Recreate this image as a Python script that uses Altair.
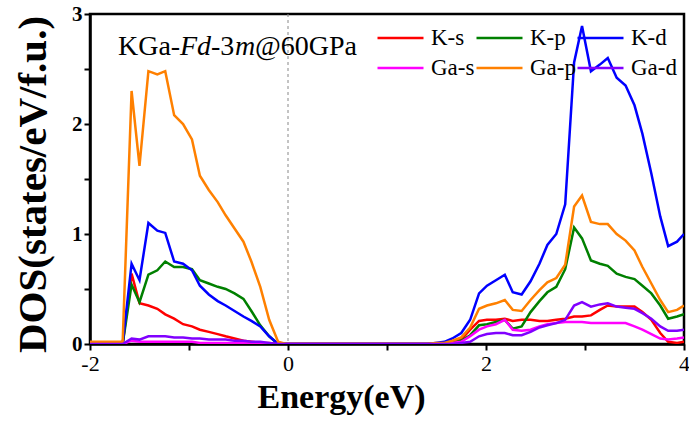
import altair as alt
import pandas as pd

energy = [-2.0, -1.67, -1.58, -1.50, -1.41, -1.32, -1.24, -1.15, -1.06, -0.97,
          -0.89, -0.80, -0.71, -0.63, -0.54, -0.45, -0.37, -0.28, -0.19, -0.10,
          -0.02, 0.5, 1.0, 1.31,
          1.40, 1.49, 1.58, 1.66, 1.75, 1.84, 1.93, 2.01, 2.10, 2.19,
          2.27, 2.36, 2.45, 2.54, 2.62, 2.71, 2.80, 2.89, 2.97, 3.06,
          3.15, 3.23, 3.32, 3.41, 3.50, 3.58, 3.67, 3.76, 3.84, 3.93, 4.0]

k_s = [0.0, 0.0, 0.64, 0.37, 0.35, 0.32, 0.27, 0.23, 0.18, 0.16,
       0.13, 0.11, 0.09, 0.07, 0.05, 0.03, 0.02, 0.01, 0.01, 0.0,
       0.0, 0.0, 0.0, 0.0,
       0.0, 0.0, 0.01, 0.02, 0.04, 0.13, 0.21, 0.22, 0.22, 0.23,
       0.21, 0.22, 0.22, 0.21, 0.21, 0.22, 0.23, 0.25, 0.25, 0.26,
       0.31, 0.35, 0.34, 0.34, 0.34, 0.29, 0.22, 0.10, 0.02, 0.01, 0.02]

k_p = [0.0, 0.0, 0.54, 0.38, 0.63, 0.67, 0.75, 0.70, 0.70, 0.68,
       0.58, 0.55, 0.52, 0.50, 0.46, 0.41, 0.30, 0.17, 0.07, 0.0,
       0.0, 0.0, 0.0, 0.0,
       0.0, 0.0, 0.01, 0.01, 0.03, 0.08, 0.17, 0.18, 0.20, 0.22,
       0.14, 0.16, 0.29, 0.39, 0.47, 0.52, 0.68, 1.06, 0.96, 0.76,
       0.73, 0.71, 0.64, 0.61, 0.59, 0.53, 0.46, 0.35, 0.23, 0.25, 0.27]

k_d = [0.0, 0.0, 0.73, 0.58, 1.10, 1.03, 1.01, 0.75, 0.73, 0.67,
       0.53, 0.45, 0.39, 0.35, 0.30, 0.25, 0.21, 0.16, 0.07, 0.0,
       0.0, 0.0, 0.0, 0.0,
       0.0, 0.01, 0.02, 0.05, 0.10, 0.22, 0.46, 0.53, 0.58, 0.63,
       0.47, 0.45, 0.57, 0.73, 0.90, 1.0, 1.27, 2.56, 2.89, 2.48,
       2.54, 2.60, 2.42, 2.35, 2.17, 1.91, 1.55, 1.16, 0.89, 0.93, 1.0]

ga_s = [0.0, 0.0, 0.03, 0.02, 0.02, 0.02, 0.02, 0.02, 0.02, 0.02,
        0.01, 0.01, 0.01, 0.01, 0.01, 0.01, 0.0, 0.0, 0.0, 0.0,
        0.0, 0.0, 0.0, 0.0,
        0.0, 0.0, 0.0, 0.01, 0.02, 0.07, 0.13, 0.16, 0.18, 0.22,
        0.13, 0.12, 0.13, 0.16, 0.18, 0.19, 0.20, 0.20, 0.20, 0.19,
        0.19, 0.19, 0.19, 0.19, 0.16, 0.13, 0.09, 0.05, 0.04, 0.05, 0.06]

ga_p = [0.02, 0.02, 2.30, 1.62, 2.48, 2.45, 2.48, 2.08, 2.00, 1.86,
        1.53, 1.40, 1.29, 1.17, 1.05, 0.93, 0.75, 0.52, 0.22, 0.02,
        0.0, 0.0, 0.0, 0.0,
        0.0, 0.01, 0.01, 0.03, 0.06, 0.15, 0.32, 0.35, 0.37, 0.40,
        0.31, 0.30, 0.40, 0.49, 0.56, 0.60, 0.72, 1.25, 1.35, 1.11,
        1.09, 1.09, 1.00, 0.94, 0.85, 0.70, 0.55, 0.40, 0.29, 0.31, 0.35]

ga_d = [0.0, 0.0, 0.05, 0.04, 0.07, 0.07, 0.07, 0.06, 0.06, 0.05,
        0.05, 0.04, 0.04, 0.04, 0.03, 0.03, 0.02, 0.02, 0.01, 0.0,
        0.0, 0.0, 0.0, 0.0,
        0.0, 0.0, 0.0, 0.0, 0.01, 0.02, 0.07, 0.09, 0.10, 0.10,
        0.08, 0.08, 0.11, 0.15, 0.17, 0.19, 0.22, 0.35, 0.38, 0.34,
        0.36, 0.37, 0.34, 0.33, 0.32, 0.28, 0.23, 0.16, 0.12, 0.12, 0.13]

series_names = ["K-s", "K-p", "K-d", "Ga-s", "Ga-p", "Ga-d"]
series_colors = ["#FF0000", "#008000", "#0000FF", "#FF00FF", "#FF8000", "#8000FF"]
series_values = [k_s, k_p, k_d, ga_s, ga_p, ga_d]

x_ticks = [-2, -1, 0, 1, 2, 3, 4]
y_ticks = [0, 0.5, 1, 1.5, 2, 2.5, 3]

rows = []
for order, (name, vals) in enumerate(zip(series_names, series_values)):
    for e, v in zip(energy, vals):
        rows.append({"Energy": e, "DOS": v, "Orbital": name, "order": order})
df = pd.DataFrame(rows)

FONT = "Liberation Serif"

lines = alt.Chart(df).mark_line(strokeWidth=2.5, clip=True).encode(
    x=alt.X("Energy:Q",
            scale=alt.Scale(domain=[-2, 4], nice=False, zero=False),
            axis=alt.Axis(values=x_ticks,
                          labelExpr="datum.value % 2 == 0 ? '' + datum.value : ''",
                          title="Energy(eV)", titleFont=FONT, titleFontSize=34,
                          titleFontWeight="bold", titleAlign="center",
                          titleBaseline="alphabetic", titleX=251, titleY=63,
                          labelFont=FONT, labelFontSize=22, labelFontWeight="normal",
                          labelPadding=3, labelFlush=False)),
    y=alt.Y("DOS:Q",
            scale=alt.Scale(domain=[0, 3], nice=False),
            axis=alt.Axis(values=y_ticks,
                          labelExpr="datum.value % 1 == 0 ? '' + datum.value : ''",
                          title="DOS(states/eV/f.u.)", titleFont=FONT, titleFontSize=41,
                          titleFontWeight="bold", titleAngle=-90, titleAlign="center",
                          titleBaseline="middle", titleX=-57, titleY=170,
                          labelFont=FONT, labelFontSize=21, labelFontWeight="bold",
                          labelPadding=2, labelFlush=False)),
    color=alt.Color("Orbital:N",
                    scale=alt.Scale(domain=series_names, range=series_colors),
                    legend=alt.Legend(title=None, orient="none", legendX=286, legendY=12,
                                      direction="horizontal",
                                      columns=3, symbolType="stroke", symbolSize=2116,
                                      symbolStrokeWidth=2.5, labelFont=FONT,
                                      labelFontSize=23, labelOffset=6, columnPadding=0,
                                      clipHeight=24, rowPadding=6, labelColor="black")),
    order=alt.Order("order:Q"),
)

zero_rule = alt.Chart(pd.DataFrame({"Energy": [0]})).mark_rule(
    color="#888888", strokeDash=[3, 3], strokeWidth=1
).encode(x="Energy:Q")

title_parts = [("KGa-", "normal", 28), ("Fd", "italic", 90), ("-3", "normal", 121),
               ("m", "italic", 145), ("@60GPa", "normal", 165)]
label_layers = []
for txt, style, px in title_parts:
    label_layers.append(
        alt.Chart(pd.DataFrame({"t": [txt]})).mark_text(
            font=FONT, fontSize=28, fontStyle=style, align="left",
            baseline="alphabetic", color="black"
        ).encode(x=alt.value(px), y=alt.value(41), text="t:N")
    )

chart = alt.layer(zero_rule, lines, *label_layers).properties(
    width=594, height=330,
    padding={"left": 90, "top": 14, "right": 5, "bottom": 79},
    autosize=alt.AutoSizeParams(type="none"),
).configure_view(
    stroke="black", strokeWidth=2.5
).configure_axis(
    grid=False, domainColor="black", domainWidth=2.5, tickColor="black",
    tickWidth=2, tickSize=6, labelColor="black", titleColor="black"
)

chart.save("out.html", embed_options={"renderer": "svg", "actions": False})
